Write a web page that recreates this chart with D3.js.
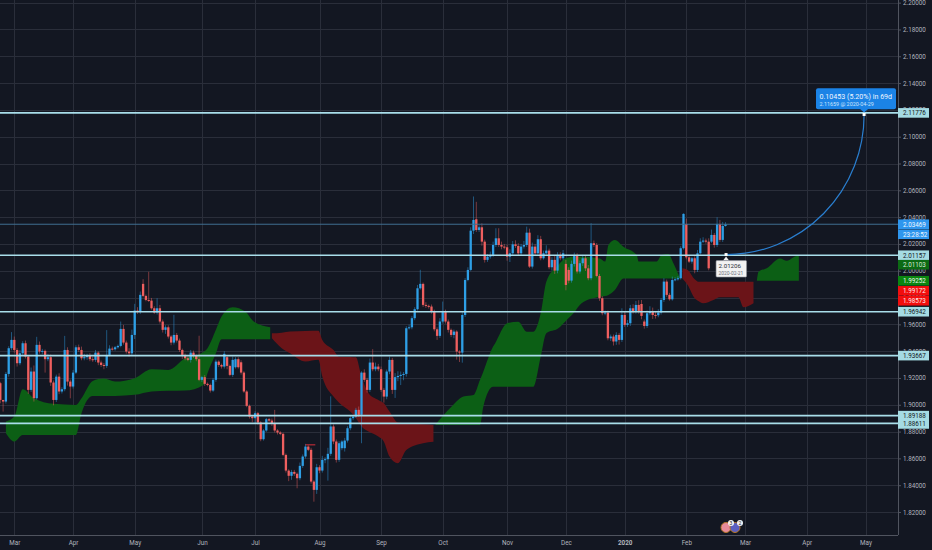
<!DOCTYPE html>
<html><head><meta charset="utf-8">
<script src="https://cdn.jsdelivr.net/npm/d3@7/dist/d3.min.js"></script>
<style>html,body{margin:0;padding:0;background:#131722;overflow:hidden}svg{display:block}text{font-family:Roboto,"Liberation Sans",sans-serif}</style>
</head><body><svg id="c" width="932" height="550"></svg>
<script>
// --- data ---
const firstOpen = 1.9161;
const closes = [
1.9036,1.9024,1.9230,1.9422,1.9484,1.9409,1.9310,1.9384,1.9459,1.9360,
1.9111,1.9248,1.9049,1.9447,1.9397,1.9402,1.9340,1.9355,1.9166,1.9036,
1.9210,1.9099,1.9116,1.9409,1.9173,1.9136,1.9240,1.9429,1.9409,1.9347,
1.9355,1.9365,1.9340,1.9335,1.9389,1.9315,1.9297,1.9290,1.9372,1.9419,
1.9414,1.9429,1.9439,1.9566,1.9464,1.9397,1.9384,1.9521,1.9703,1.9693,
1.9820,1.9812,1.9782,1.9777,1.9720,1.9688,1.9720,1.9621,1.9559,1.9578,
1.9509,1.9464,1.9521,1.9479,1.9409,1.9372,1.9347,1.9335,1.9389,1.9365,
1.9340,1.9186,1.9206,1.9156,1.9148,1.9106,1.9186,1.9322,1.9297,1.9285,
1.9380,1.9290,1.9223,1.9335,1.9340,1.9280,1.9240,1.9099,1.8992,1.8912,
1.8900,1.8937,1.8867,1.8743,1.8808,1.8892,1.8882,1.8857,1.8808,1.8793,
1.8783,1.8626,1.8509,1.8470,1.8499,1.8485,1.8452,1.8544,1.8614,1.8688,
1.8664,1.8427,1.8365,1.8534,1.8509,1.8589,1.8594,1.8634,1.8838,1.8726,
1.8589,1.8713,1.8726,1.8733,1.8825,1.8900,1.8912,1.8962,1.8925,1.9240,
1.9186,1.9111,1.9315,1.9265,1.9285,1.9265,1.9111,1.9061,1.9248,1.9335,
1.9111,1.9206,1.9215,1.9223,1.9230,1.9571,1.9578,1.9646,1.9713,1.9869,
1.9902,1.9745,1.9738,1.9733,1.9695,1.9563,1.9514,1.9621,1.9695,1.9621,
1.9559,1.9521,1.9546,1.9397,1.9389,1.9670,1.9931,2.0006,2.0299,2.0379,
2.0304,2.0324,2.0217,2.0081,2.0105,2.0118,2.0192,2.0242,2.0192,2.0180,
2.0175,2.0105,2.0130,2.0197,2.0185,2.0130,2.0180,2.0192,2.0284,2.0031,
2.0180,2.0130,2.0235,2.0093,2.0130,2.0150,2.0026,2.0081,2.0001,2.0118,
2.0093,2.0130,1.9894,1.9926,2.0051,2.0110,1.9994,2.0056,2.0093,2.0018,
1.9944,2.0205,2.0192,1.9961,1.9795,1.9683,1.9688,1.9496,1.9509,1.9472,
1.9521,1.9484,1.9670,1.9596,1.9608,1.9720,1.9695,1.9745,1.9695,1.9663,
1.9588,1.9683,1.9695,1.9670,1.9668,1.9688,1.9782,1.9919,1.9820,1.9787,
1.9931,1.9936,1.9944,2.0168,2.0424,2.0100,2.0068,2.0093,2.0006,2.0130,
2.0217,2.0225,2.0217,2.0018,2.0267,2.0192,2.0349,2.0230,2.0334,2.0347];
// bars whose open differs from the previous close: [bar, open]
const gapOpens = [[51,1.9902],[81,1.9355],[84,1.9280],[86,1.9317],[122,1.8676],[123,1.8676],[170,2.0384],[202,2.0051],[203,2.0006],[229,1.9752],[230,1.9621],[245,2.0349],[254,2.0217]];
// wick lengths in pips above / below the body
const upperWick = [
10,0,15,15,58,25,15,25,15,20, 10,30,45,60,25,15,10,25,20,15,
15,25,15,105,20,15,20,15,20,25, 25,15,20,20,20,10,15,15,185,25,
15,10,10,55,30,15,25,40,50,25, 25,35,10,210,20,15,75,25,15,15,
15,10,150,15,15,10,10,15,20,15, 10,175,10,15,10,10,15,15,10,10,
20,10,10,25,15,15,15,10,10,10, 10,15,10,10,10,10,10,15,105,10,
10,10,10,10,15,15,10,25,15,20, 10,15,10,25,15,30,15,45,225,15,
15,15,10,20,15,15,10,15,25,10, 25,15,30,100,30,20,20,15,15,25,
15,30,35,25,15,15,20,15,15,25, 105,10,20,10,15,15,15,25,75,15,
15,10,15,10,10,25,15,20,25,175, 130,15,30,15,20,25,25,75,75,25,
20,20,30,25,30,20,20,30,45,30, 30,20,30,25,20,40,15,20,35,20,
20,25,30,20,25,25,20,20,25,20, 25,150,20,15,15,15,15,15,15,15,
20,15,50,30,25,25,30,30,35,30, 15,20,40,30,25,25,15,25,15,15,
25,15,15,15,5,40,10,10,15,25, 25,25,15,25,40,15,50,30,30,15];
const lowerWick = [
25,75,15,20,15,20,25,15,20,15, 30,15,25,10,15,20,100,15,25,40,
15,20,15,15,30,88,15,10,15,15, 15,20,15,15,15,20,15,25,15,10,
10,10,10,10,15,15,25,15,30,15, 15,10,10,10,10,10,15,15,20,30,
15,20,15,15,15,30,15,10,20,15, 15,10,15,15,10,15,10,15,15,15,
15,25,10,15,10,10,15,10,10,15, 30,40,15,15,10,10,10,15,15,15,
10,10,15,40,30,15,75,15,15,15, 10,15,88,30,20,15,25,160,15,20,
20,15,15,25,15,15,15,10,15,212, 15,20,15,15,15,15,15,45,20,20,
30,60,30,68,40,20,10,15,15,10, 10,15,15,15,15,15,30,15,15,15,
20,15,25,60,70,75,15,10,10,25, 15,15,30,20,15,15,15,15,15,20,
15,30,40,20,15,20,20,15,15,10, 15,20,10,15,10,10,15,25,25,20,
15,15,40,20,15,20,15,15,20,20, 15,15,15,10,20,15,15,15,20,30,
25,35,15,15,15,20,15,15,15,25, 20,15,15,30,25,15,15,15,15,10,
10,10,10,10,10,15,10,15,25,15, 10,10,15,15,10,20,15,15,15,5];

// Ichimoku cloud knots
const cloudABars = [2,5,8,12,19,27,29,33,37,41,48,54,60,66,72.6,74,77,79,83,87.5,90.5,96.4];
const cloudATop  = [1.8875,1.8912,1.9116,1.9049,1.9007,1.8999,1.9049,1.9178,1.9196,1.9173,1.9198,1.9265,1.9260,1.9347,1.9394,1.9422,1.9559,1.9658,1.9728,1.9695,1.9621,1.9578];
const cloudABot  = [1.8788,1.8726,1.8775,1.8775,1.8775,1.8775,1.8937,1.9066,1.9066,1.9066,1.9074,1.9099,1.9104,1.9106,1.9148,1.9235,1.9384,1.9489,1.9489,1.9489,1.9489,1.9489];
const cloudBBars = [97,100.5,103.5,109,113.6,115,119,121,125,127,129,131.5,135,137,139,142,145,151,154.7];
const cloudBTop  = [1.9533,1.9538,1.9546,1.9551,1.9553,1.9484,1.9409,1.9359,1.9357,1.9354,1.9210,1.9086,1.9036,1.9011,1.8949,1.8867,1.8862,1.8855,1.8850];
const cloudBBot  = [1.9496,1.9422,1.9384,1.9322,1.9335,1.9210,1.9061,1.9016,1.8949,1.8900,1.8837,1.8800,1.8763,1.8725,1.8614,1.8564,1.8663,1.8713,1.8725];
const cloudCBars = [155.3,160.6,165.4,169,171.3,172.5,176,176.7,181,185,188,190.4,193,195,199.3,201.7,204.7,207.6,214.2,216,217.2,219.5,222.5,227.3,228,234.4,236.2,238.6,240.4,242.75];
const cloudCTop  = [1.8849,1.8974,1.9061,1.9073,1.9185,1.9247,1.9434,1.9458,1.9608,1.9620,1.9545,1.9545,1.9682,1.9918,2.0043,2.0092,2.0105,2.0105,2.0092,2.0068,2.0192,2.0229,2.0179,2.0117,2.0068,2.0068,2.0117,2.0125,2.0055,1.9943];
const cloudCBot  = [1.8849,1.8849,1.8849,1.8849,1.8849,1.8986,1.9135,1.9135,1.9135,1.9135,1.9135,1.9135,1.9359,1.9533,1.9570,1.9620,1.9682,1.9757,1.9806,1.9811,1.9819,1.9856,1.9943,1.9943,1.9943,1.9943,1.9943,1.9943,1.9943,1.9943];
const cloudDBars = [243.6,245.5,248,249.3,251,254.7,257,263.6,265.4,269];
const cloudDTop  = [2.0018,2.0005,1.9936,1.9918,1.9918,1.9918,1.9918,1.9918,1.9918,1.9918];
const cloudDBot  = [1.9943,1.9893,1.9794,1.9774,1.9757,1.9782,1.9802,1.9802,1.9727,1.9757];
const cloudEBars = [270.2,270.8,273.7,278.5,280.9,284.5,285.2];
const cloudETop  = [1.9926,1.9993,2.0018,2.0092,2.0075,2.0110,2.0110];
const cloudEBot  = [1.9926,1.9926,1.9926,1.9926,1.9926,1.9926,1.9926];

const levels = [2.11776,2.01157,1.96942,1.93667,1.89188,1.88611];
const lastPrice = 2.03469, countdown = "23:28:52";
const priceTicks = d3.range(19,-1,-1).map(i=>1.82+i*0.02);
const monthBars = [5,26,48,72,91,114,136,158,181,202,223,245,266,288,309];
const monthLabels = ["Mar","Apr","May","Jun","Jul","Aug","Sep","Oct","Nov","Dec","2020","Feb","Mar","Apr","May"];
const dashBars = [109,112.5], dashPrice = 1.8701;
const targetStart = {bar:259.2, price:2.01206, label:"2.01206", date:"2020-02-21"};
const targetEnd = {bar:308.5, price:2.11659, line1:"0.10453 (5.20%) in 69d", line2:"2.11659 @ 2020-04-29"};
// price, fill, text colour, shown-at price (labels are pushed apart on the axis)
const axisTags = [
 [2.11776,"#a5dbe3","#131722",2.11776],[2.01157,"#a5dbe3","#131722",2.01157],[2.01103,"#0c6a14","#d8e8d8",2.00450],
 [1.99252,"#0a8510","#e8f5e8",1.99252],[1.99172,"#f20d0d","#ffe8e8",1.98500],[1.98573,"#f20d0d","#ffe8e8",1.97760],
 [1.96942,"#a5dbe3","#131722",1.96942],[1.93667,"#a5dbe3","#131722",1.93667],[1.89188,"#a5dbe3","#131722",1.89188],[1.88611,"#a5dbe3","#131722",1.88570]];

// --- scales ---
const W=932,H=550,plotR=898,plotB=535,FS=6.3;
const x=d3.scaleLinear().domain([0,1]).range([0.3,3.1]);
const y=d3.scaleLinear().domain([2.10,1.82]).range([136.7,512]);
const svg=d3.select("#c");
const BG="#131722",GRID="#2a2e3a",AXIS="#50545f",TXT="#b2b5be",LVL="#a9deea",UP="#2e9fe6",DOWN="#ef5f5f";

svg.append("defs").append("clipPath").attr("id","plot").append("rect").attr("width",plotR).attr("height",plotB);
svg.append("rect").attr("width",W).attr("height",H).attr("fill",BG);

// grid
const grid=svg.append("g").attr("stroke",GRID).attr("stroke-width",1);
grid.selectAll(".h").data(priceTicks).join("line").attr("x1",0).attr("x2",plotR).attr("y1",d=>Math.round(y(d))+.5).attr("y2",d=>Math.round(y(d))+.5);
grid.selectAll(".v").data(monthBars).join("line").attr("y1",0).attr("y2",plotB).attr("x1",d=>Math.round(x(d))+.5).attr("x2",d=>Math.round(x(d))+.5);

const plot=svg.append("g").attr("clip-path","url(#plot)");

// clouds
function cloud(bars,top,bot,color){
  const a=d3.area().x((d,i)=>x(bars[i])).y0((d,i)=>y(bot[i])).y1((d,i)=>y(top[i])).curve(d3.curveMonotoneX);
  plot.append("path").attr("d",a(bars)).attr("fill",color);
}
const G="#0c5f15",R="#6b1418";
cloud(cloudABars,cloudATop,cloudABot,G);
cloud(cloudBBars,cloudBTop,cloudBBot,R);
cloud(cloudCBars,cloudCTop,cloudCBot,G);
cloud(cloudDBars,cloudDTop,cloudDBot,R);
cloud(cloudEBars,cloudETop,cloudEBot,G);

// candles
const gapMap=new Map(gapOpens);
const candles=closes.map((c,i)=>{
  const o=gapMap.has(i)?gapMap.get(i):(i?closes[i-1]:firstOpen);
  return {i,o,c,h:Math.max(o,c)+upperWick[i]*1e-4,l:Math.min(o,c)-lowerWick[i]*1e-4};
});
const col=d=>d.c>=d.o?UP:DOWN;
plot.append("g").selectAll("line").data(candles).join("line")
  .attr("x1",d=>x(d.i)).attr("x2",d=>x(d.i)).attr("y1",d=>y(d.h)).attr("y2",d=>y(d.l))
  .attr("stroke",col).attr("stroke-width",.8).attr("stroke-opacity",.6);
plot.append("g").selectAll("rect").data(candles).join("rect")
  .attr("x",d=>x(d.i)-1.15).attr("width",2.3)
  .attr("y",d=>y(Math.max(d.o,d.c)))
  .attr("height",d=>Math.max(1,Math.abs(y(d.o)-y(d.c))))
  .attr("fill",col);
plot.append("line").attr("x1",x(dashBars[0])).attr("x2",x(dashBars[1])).attr("y1",y(dashPrice)).attr("y2",y(dashPrice)).attr("stroke","#d8303a").attr("stroke-width",1);

// last price line and levels
plot.append("line").attr("x1",0).attr("x2",plotR).attr("y1",y(lastPrice)).attr("y2",y(lastPrice)).attr("stroke","#3f6f90").attr("stroke-width",1);
plot.append("g").selectAll("line").data(levels).join("line")
  .attr("x1",0).attr("x2",plotR).attr("y1",d=>y(d)).attr("y2",d=>y(d))
  .attr("stroke",LVL).attr("stroke-width",1.6);

// projection arc
const x0=x(targetStart.bar),y0=y(targetStart.price),x1=x(targetEnd.bar),y1=y(targetEnd.price);
plot.append("path").attr("d",`M${x0},${y0}A${x1-x0},${y0-y1} 0 0 0 ${x1},${y1}`)
  .attr("fill","none").attr("stroke","#2a7fd0").attr("stroke-width",1.2);

// start tooltip
const tip=svg.append("g");
tip.append("path").attr("d",`M${x0-3},${y0+6}L${x0},${y0+2}L${x0+3},${y0+6}Z`).attr("fill","#f0f0f0");
tip.append("rect").attr("x",x0-10).attr("y",y0+6).attr("width",30.5).attr("height",16.5).attr("rx",1).attr("fill","#f2f2f2").attr("stroke","#8a8d95").attr("stroke-width",.6);
tip.append("text").attr("x",x0-7.5).attr("y",y0+13.5).attr("font-size",6.2).attr("fill","#2a2e39").text(targetStart.label);
tip.append("text").attr("x",x0-7.5).attr("y",y0+20.3).attr("font-size",4.9).attr("fill","#6a6d78").text(targetStart.date);
tip.append("rect").attr("x",x0-1.5).attr("y",y0-1.5).attr("width",3).attr("height",3).attr("fill","#fff");

// target callout
const call=svg.append("g");
call.append("rect").attr("x",816).attr("y",88.3).attr("width",80).attr("height",21).attr("rx",2).attr("fill","#1b83e6");
call.append("path").attr("d",`M${x1-4},109L${x1},${y1-2}L${x1+4},109Z`).attr("fill","#1b83e6");
call.append("text").attr("x",819.5).attr("y",98.8).attr("font-size",7.1).attr("fill","#eef6ff").text(targetEnd.line1);
call.append("text").attr("x",819.5).attr("y",106.3).attr("font-size",5.4).attr("fill","#cfe5fb").text(targetEnd.line2);
call.append("rect").attr("x",x1-1.5).attr("y",y1-1.5).attr("width",3).attr("height",3).attr("fill","#fff");

// axes
const ax=svg.append("g").attr("transform",`translate(${plotR},0)`)
  .call(d3.axisRight(y).tickValues(priceTicks).tickSize(3).tickFormat(d3.format(".5f")));
ax.selectAll("text").attr("font-size",FS).attr("fill",TXT).attr("x",5);
ax.selectAll("line").attr("stroke",AXIS);
ax.select(".domain").attr("stroke",AXIS).attr("d",`M0.5,0V${plotB}`);
const xa=svg.append("g").attr("transform",`translate(0,${plotB})`)
  .call(d3.axisBottom(x).tickValues(monthBars).tickSize(0).tickFormat((d,i)=>monthLabels[i]));
xa.selectAll("text").attr("font-size",FS).attr("fill",TXT).attr("y",6).attr("dy",".71em");
xa.select(".domain").attr("stroke",AXIS).attr("d",`M0,0.5H${plotR}`);
xa.selectAll(".tick").filter((d,i)=>monthLabels[i]==="2020").select("text").attr("font-weight","bold");

// axis tags
const tagW=31,tagH=9.6;
function tag(py,fill,tc,t,yy){
  const g=svg.append("g");
  g.append("rect").attr("x",plotR).attr("y",yy-tagH/2).attr("width",tagW).attr("height",tagH).attr("fill",fill);
  g.append("text").attr("x",plotR+5).attr("y",yy+2.3).attr("font-size",FS).attr("fill",tc).text(t);
}
const fmt=d3.format(".5f");
tag(lastPrice,"#2e96ee","#eef6ff",fmt(lastPrice),y(lastPrice));
tag(lastPrice,"#2e96ee","#eef6ff",countdown,y(lastPrice)+10);
axisTags.forEach(([p,f,t,shown])=>tag(p,f,t,fmt(p),y(shown)));

// event markers
const ev=svg.append("g");
[[726,"#e88a9a"],[735,"#5b5fc0"]].forEach(([cx,f],k)=>{
  ev.append("circle").attr("cx",cx).attr("cy",527.5).attr("r",5).attr("fill",f).attr("stroke","#b5762c").attr("stroke-width",1);
});
[[726,"3"],[735,"2"]].forEach(([cx,t])=>{
  ev.append("circle").attr("cx",cx+5).attr("cy",523).attr("r",3).attr("fill","#f4f4f4");
  ev.append("text").attr("x",cx+5).attr("y",524.8).attr("text-anchor","middle").attr("font-size",5).attr("fill","#222").text(t);
});
</script></body></html>
